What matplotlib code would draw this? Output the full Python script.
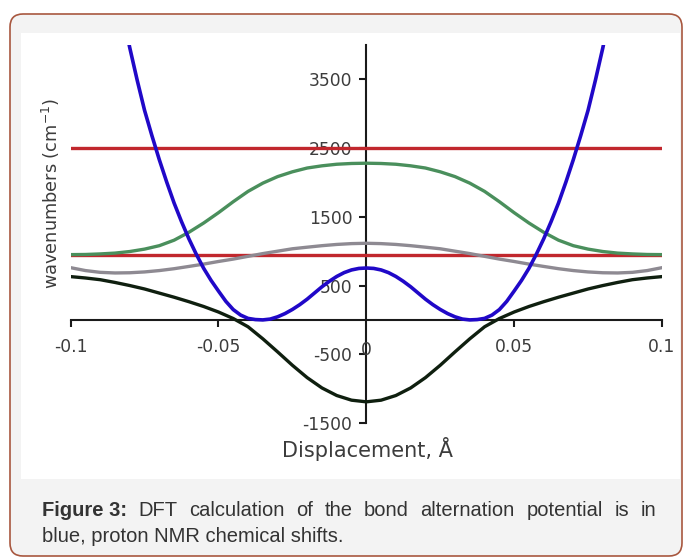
import numpy as np
import matplotlib
matplotlib.use('Agg')
import matplotlib.pyplot as plt
from matplotlib.patches import FancyBboxPatch, Rectangle

disp = [-0.100, -0.095, -0.090, -0.085, -0.080, -0.075, -0.070, -0.065, -0.060, -0.055,
        -0.050, -0.045, -0.040, -0.035, -0.030, -0.025, -0.020, -0.015, -0.010, -0.005,
        0.000, 0.005, 0.010, 0.015, 0.020, 0.025, 0.030, 0.035, 0.040, 0.045,
        0.050, 0.055, 0.060, 0.065, 0.070, 0.075, 0.080, 0.085, 0.090, 0.095, 0.100]

# bond alternation potential (blue), read more densely, goes off the top of the plot
disp_blue = [-0.085, -0.080, -0.0775, -0.075, -0.0725, -0.070, -0.0675, -0.065, -0.0625,
             -0.060, -0.0575, -0.055, -0.0525, -0.050, -0.0475, -0.045, -0.0425, -0.040,
             -0.0375, -0.035, -0.0325, -0.030, -0.0275, -0.025, -0.0225, -0.020, -0.0175,
             -0.015, -0.0125, -0.010, -0.0075, -0.005, -0.0025, 0.000,
             0.0025, 0.005, 0.0075, 0.010, 0.0125, 0.015, 0.0175, 0.020, 0.0225,
             0.025, 0.0275, 0.030, 0.0325, 0.035, 0.0375, 0.040, 0.0425, 0.045,
             0.0475, 0.050, 0.0525, 0.055, 0.0575, 0.060, 0.0625, 0.065, 0.0675,
             0.070, 0.0725, 0.075, 0.0775, 0.080, 0.085]
potential = [5000, 3960, 3490, 3050, 2680, 2330, 2005, 1700, 1430,
             1180, 955, 750, 575, 420, 270, 150, 70, 22,
             5, 0, 12, 45, 92, 152, 222, 302, 392,
             482, 562, 632, 688, 727, 749, 755,
             749, 727, 688, 632, 562, 482, 392, 302, 222,
             152, 92, 45, 12, 0, 5, 22, 70, 150,
             270, 420, 575, 750, 955, 1180, 1430, 1700, 2005,
             2330, 2680, 3050, 3490, 3960, 5000]

# chemical shift curves
shift_green = [950, 952, 960, 972, 995, 1030, 1080, 1160, 1275, 1410,
               1560, 1720, 1870, 1990, 2085, 2155, 2210, 2242, 2265, 2276,
               2280, 2276, 2265, 2242, 2210, 2155, 2085, 1990, 1870, 1720,
               1560, 1410, 1275, 1160, 1080, 1030, 995, 972, 960, 952, 950]
shift_gray = [760, 718, 692, 683, 686, 698, 718, 745, 778, 812,
              850, 885, 925, 965, 1000, 1035, 1058, 1080, 1098, 1110,
              1115, 1110, 1098, 1080, 1058, 1035, 1000, 965, 925, 885,
              850, 812, 778, 745, 718, 698, 686, 683, 692, 718, 760]
shift_black = [630, 610, 585, 545, 500, 450, 390, 330, 265, 195,
               115, 20, -100, -275, -465, -660, -840, -990, -1100, -1168,
               -1192, -1168, -1100, -990, -840, -660, -465, -275, -100, 20,
               115, 195, 265, 330, 390, 450, 500, 545, 585, 610, 630]

# horizontal reference levels (red)
red_levels = [2500, 950]

xticks = [-0.1, -0.05, 0.05, 0.1]
xticklabels = ['-0.1', '-0.05', '0.05', '0.1']
yticks = [-1500, -500, 500, 1500, 2500, 3500]

caption_bold = 'Figure 3:'
caption_line1 = 'DFT calculation of the bond alternation potential is in'
caption_line2 = 'blue, proton NMR chemical shifts.'

W, H = 685, 559
fig = plt.figure(figsize=(W / 100, H / 100), dpi=100)

# rounded frame + white panel like the journal figure box
frame = FancyBboxPatch((0.10, 0.03), 6.72, 5.42, boxstyle='round,pad=0,rounding_size=0.13',
                       transform=fig.dpi_scale_trans, facecolor='#f3f3f3',
                       edgecolor='#a8573f', linewidth=1.2, zorder=-2)
fig.patches.append(frame)
panel = Rectangle((0.21, 0.80), 6.59, 4.46, transform=fig.dpi_scale_trans,
                  facecolor='white', edgecolor='none', zorder=-1)
fig.patches.append(panel)

ax = fig.add_axes([0.1031, 0.2433, 0.8633, 0.6762])
ax.patch.set_alpha(0)

for lvl in red_levels:
    ax.plot([disp[0], disp[-1]], [lvl, lvl], color='#c1272d', lw=2.4, zorder=3)
ax.plot(disp, shift_green, color='#4a8f5c', lw=2.4, zorder=3)
ax.plot(disp, shift_gray, color='#8e8a92', lw=2.4, zorder=3)
ax.plot(disp, shift_black, color='#0f1f0f', lw=2.4, zorder=3)
ax.plot(disp_blue, potential, color='#2008c8', lw=2.6, zorder=4)

ax.set_xlim(-0.1, 0.1)
ax.set_ylim(-1500, 4000)

# axes cross at the origin
ax.spines['left'].set_position(('data', 0))
ax.spines['bottom'].set_position(('data', 0))
ax.spines['right'].set_visible(False)
ax.spines['top'].set_visible(False)
for s in ['left', 'bottom']:
    ax.spines[s].set_linewidth(1.5)
    ax.spines[s].set_color('#1a1a1a')

txt_color = '#3c3c3c'
ax.set_xticks(xticks)
ax.set_xticklabels(xticklabels)
ax.set_yticks(yticks)
ax.set_yticklabels([str(v) for v in yticks])
ax.tick_params(axis='x', direction='out', length=5, width=1.5, pad=8,
               labelsize=12.3, labelcolor=txt_color, color='#1a1a1a')
ax.tick_params(axis='y', direction='out', length=5, width=1.5, pad=5,
               labelsize=12.3, labelcolor=txt_color, color='#1a1a1a')
ax.annotate('0', xy=(0, 0), xytext=(0, -22), textcoords='offset points',
            ha='center', va='center', fontsize=12.3, color=txt_color)

fig.text(367 / W, 1 - 449 / H, 'Displacement, Å', ha='center', va='center',
         fontsize=15, color=txt_color)
fig.text(51 / W, 1 - 193 / H, 'wavenumbers (cm$^{-1}$)', rotation=90, ha='center',
         va='center', fontsize=12.8, color=txt_color)

# caption: first line justified between x=42 and x=656 px
cap_font = dict(fontsize=14.5, family='Liberation Sans', color='#333333')
renderer = fig.canvas.get_renderer()
words = [fig.text(0, 1 - 511 / H, caption_bold, fontweight='bold', va='center', **cap_font)]
for w in caption_line1.split():
    words.append(fig.text(0, 1 - 511 / H, w, va='center', **cap_font))
widths = [t.get_window_extent(renderer).width for t in words]
gap = (656 - 42 - sum(widths)) / (len(words) - 1)
x = 42
for t, wd in zip(words, widths):
    t.set_x(x / W)
    x += wd + gap
fig.text(42 / W, 1 - 536 / H, caption_line2, va='center', **cap_font)

fig.savefig('out.png', dpi=100)
